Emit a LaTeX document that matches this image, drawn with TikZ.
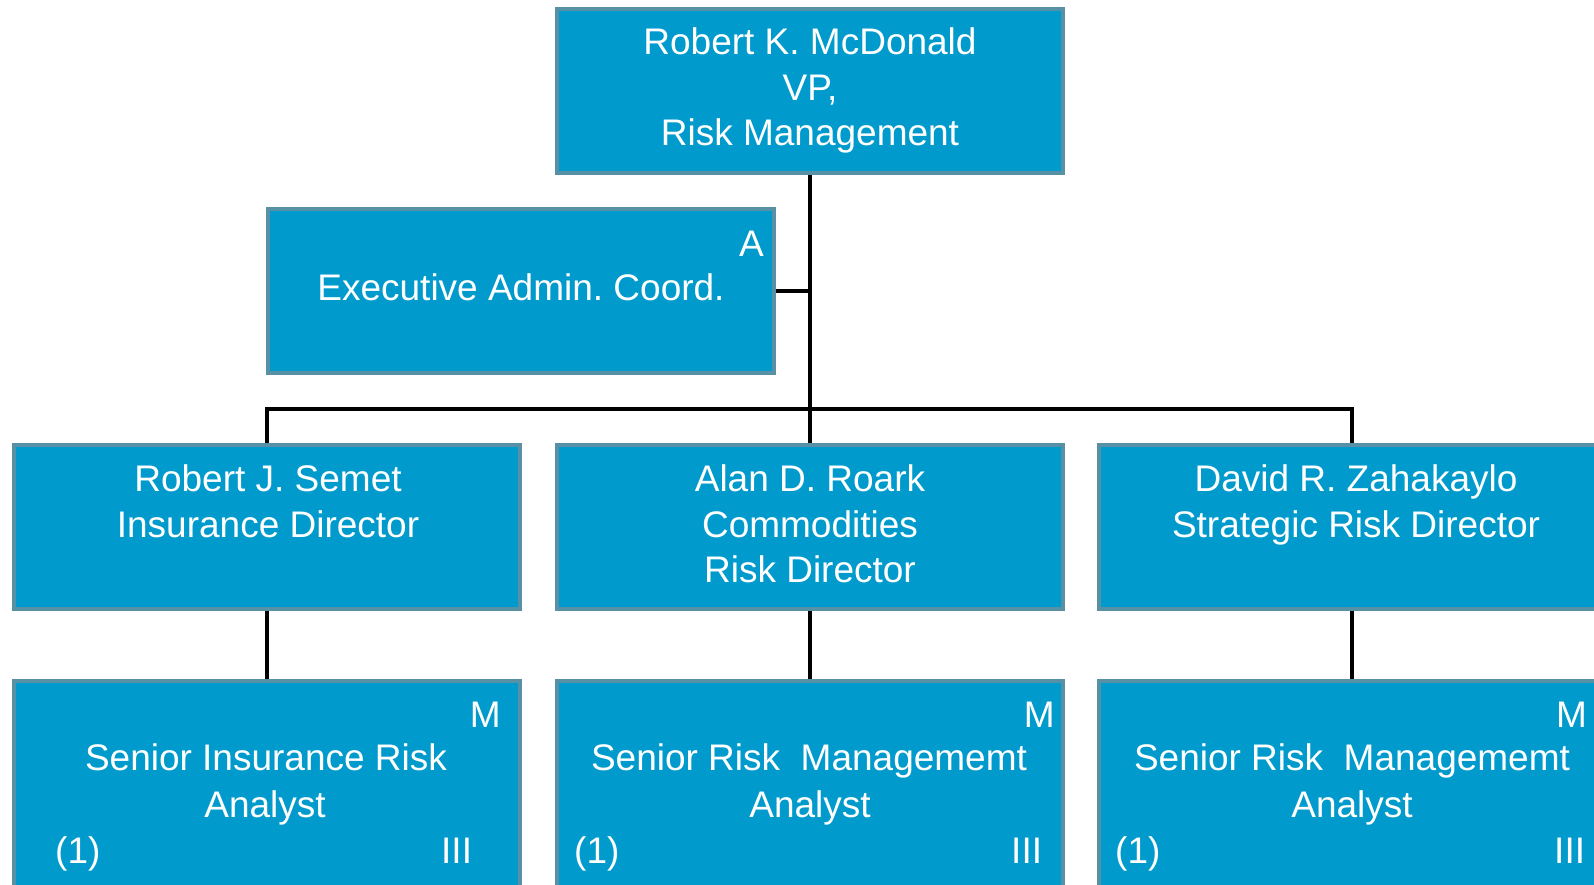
\documentclass[tikz,border=0pt]{standalone}
\usepackage{fontspec}
\setmainfont{Liberation Sans}
\frenchspacing
\definecolor{boxfill}{HTML}{009BCC}
\definecolor{boxline}{HTML}{5890A6}
\tikzset{
  orgbox/.style={draw=boxline, fill=boxfill, line width=4pt, rectangle,
    minimum width=506pt, minimum height=164pt, inner sep=0pt},
  lbl/.style={text=white, font=\fontsize{37}{45}\selectfont, inner sep=0pt, anchor=base},
  lble/.style={lbl, anchor=base east},
  lblw/.style={lbl, anchor=base west},
  conn/.style={line width=4pt, black}
}
\begin{document}
\begin{tikzpicture}[x=1pt,y=-1pt]
\useasboundingbox (0,0) rectangle (1594,885);
\clip (0,0) rectangle (1594,885);
% boxes
\node[orgbox] (top) at (810,91) {};
\node[orgbox] (admin) at (521,291) {};
\node[orgbox] (c1) at (267,527) {};
\node[orgbox] (c2) at (810,527) {};
\node[orgbox] (c3) at (1352,527) {};
\node[orgbox, minimum height=300pt] (d1) at (267,831) {};
\node[orgbox, minimum height=300pt] (d2) at (810,831) {};
\node[orgbox, minimum height=300pt] (d3) at (1352,831) {};
% connectors
\coordinate (j) at (810,409);
\draw[conn] (top.south) -- (c2.north);
\draw[conn] (admin.east) -- (admin.east -| top.south);
\draw[conn] (c1.north) |- (j) -| (c3.north);
\draw[conn] (c1.south) -- (d1.north);
\draw[conn] (c2.south) -- (d2.north);
\draw[conn] (c3.south) -- (d3.north);
% texts: top
\node[lbl] (t1) at (810,55) {Robert K. McDonald};
\node[lbl] (t2) at (810,100.5) {VP,};
\node[lbl] (t3) at (810,146) {Risk Management};
% admin
\node[lble] (a1) at (764,257) {A};
\node[lbl] (a2) at (521,300) {Executive Admin. Coord.};
% row 2
\node[lbl] (r1a) at (268,491) {Robert J. Semet};
\node[lbl] (r1b) at (268,537) {Insurance Director};
\node[lbl] (r2a) at (810,491) {Alan D. Roark};
\node[lbl] (r2b) at (810,537) {Commodities};
\node[lbl] (r2c) at (810,582) {Risk Director};
\node[lbl] (r3a) at (1356,491) {David R. Zahakaylo};
\node[lbl] (r3b) at (1356,537) {Strategic Risk Director};
% row 3 col 1
\node[lble] (m1) at (501,727) {M};
\node[lbl] (s1a) at (266,770) {Senior Insurance Risk};
\node[lbl] (s1b) at (265,817) {Analyst};
\node[lblw] (n1) at (55,863) {(1)};
\node[lblw] (g1) at (441,863) {III};
% row 3 col 2
\node[lble] (m2) at (1055,727) {M};
\node[lbl] (s2a) at (809,770) {Senior Risk\ \ Managememt};
\node[lbl] (s2b) at (810,817) {Analyst};
\node[lblw] (n2) at (574,863) {(1)};
\node[lblw] (g2) at (1011,863) {III};
% row 3 col 3
\node[lble] (m3) at (1587,727) {M};
\node[lbl] (s3a) at (1352,770) {Senior Risk\ \ Managememt};
\node[lbl] (s3b) at (1352,817) {Analyst};
\node[lblw] (n3) at (1115,863) {(1)};
\node[lblw] (g3) at (1554,863) {III};
\end{tikzpicture}
\end{document}
